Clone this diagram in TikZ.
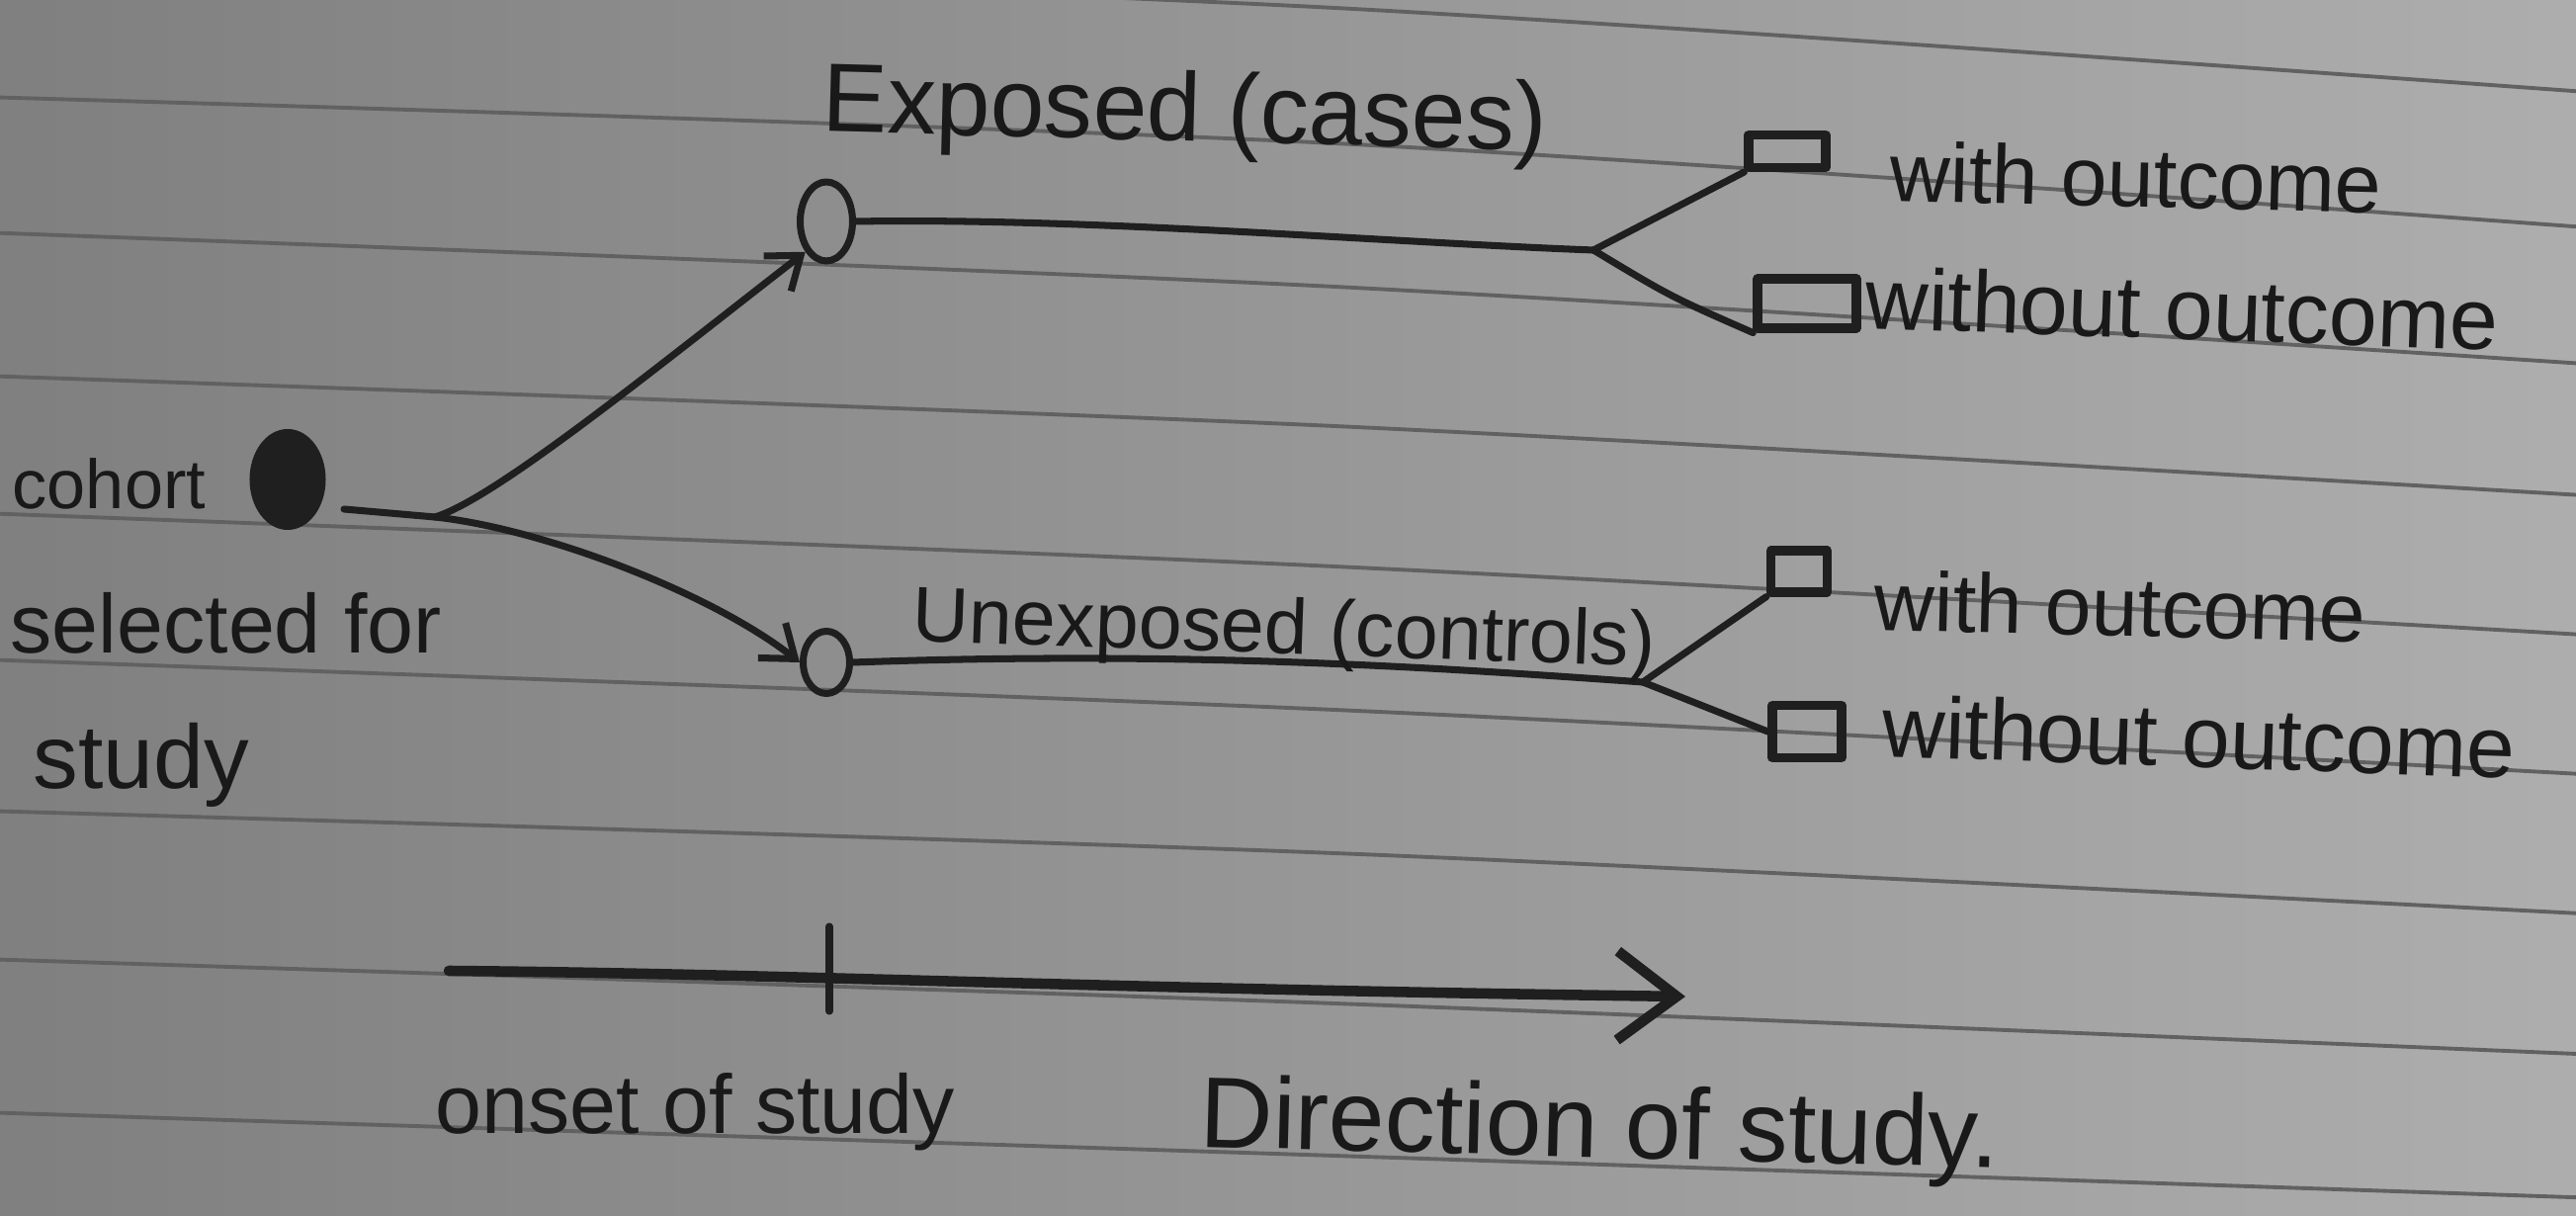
\documentclass[tikz,border=0pt]{standalone}
\usepackage{fontspec}
\setmainfont{Liberation Sans}
\usetikzlibrary{shapes.geometric,arrows.meta}

\tikzset{
  ink/.style={draw=black!88, line width=2pt, line cap=round, line join=round},
  ruled/.style={draw=black!62, line width=1.1pt},
  hole/.style={ink, ellipse, inner sep=0pt},
  outbox/.style={ink, line width=2.6pt, rectangle, inner sep=0pt},
  hand/.style={text=black!90, inner sep=0pt, anchor=base west},
  small tip/.style={-{Straight Barb[length=3mm,width=4.5mm]}},
  big tip/.style={-{Straight Barb[length=6mm,width=9mm]}},
}

\begin{document}
\begin{tikzpicture}
        % Definition
        \pgfmathsetmacro{\W}{26.06}
        \pgfmathsetmacro{\H}{12.30}

        % Paper
        \useasboundingbox (0,0) rectangle (\W,\H);
        \shade[left color=black!50, right color=black!32] (0,0) rectangle (\W,\H);
        \begin{scope}
          \clip (0,0) rectangle (\W,\H);
          \foreach \a/\b/\c in {12.75/12.22/11.36, 11.32/10.85/9.99, 9.95/9.40/8.61,
                                8.50/7.99/7.28, 7.11/6.57/5.87, 5.63/5.12/4.46,
                                4.10/3.67/3.05, 2.60/2.15/1.63, 1.05/0.61/0.18}
            \draw[ruled] plot[smooth] coordinates {(-0.2,\a) (13.5,\b) (26.3,\c)};
        \end{scope}

        % Coordinates
        \node[hole, fill=black!88, minimum width=7mm, minimum height=9.5mm] (cohort) at (2.91,7.45) {};
        \coordinate (stem) at (3.48,7.15);
        \coordinate (fork) at (4.40,7.07);
        \node[hole, minimum width=5.3mm, minimum height=8mm] (exp) at (8.36,10.06) {};
        \node[hole, minimum width=4.7mm, minimum height=6.3mm] (unexp) at (8.36,5.60) {};
        \coordinate (expsplit) at (16.12,9.77);
        \coordinate (unexpsplit) at (16.62,5.40);
        \node[outbox, minimum width=7.8mm, minimum height=3.3mm] (expwith) at (18.08,10.77) {};
        \node[outbox, minimum width=10mm, minimum height=5mm] (expwithout) at (18.28,9.23) {};
        \node[outbox, minimum width=5.7mm, minimum height=4.2mm] (unexpwith) at (18.20,6.52) {};
        \node[outbox, minimum width=7mm, minimum height=5.3mm] (unexpwithout) at (18.28,4.90) {};
        \coordinate (tstart) at (4.54,2.48);
        \coordinate (onset) at (8.39,2.42);
        \coordinate (tend) at (17.05,2.22);

        % Draw cohort split
        \draw[ink] (stem) -- (fork);
        \draw[ink,small tip] (fork) .. controls (5.0,7.25) and (6.6,8.55) .. (exp.south west);
        \draw[ink,small tip] (fork) .. controls (5.5,6.95) and (7.2,6.3) .. (unexp.west);

        % Draw exposed branch
        \draw[ink] (exp.east) .. controls (11,10.1) and (14,9.85) .. (expsplit);
        \draw[ink] (expsplit) -- (expwith.south west);
        \draw[ink] (expsplit) .. controls (16.9,9.3) .. (expwithout.south west);

        % Draw unexposed branch
        \draw[ink] (unexp.east) .. controls (12,5.72) and (14.5,5.55) .. (unexpsplit);
        \draw[ink] (unexpsplit) -- (unexpwith.south west);
        \draw[ink] (unexpsplit) -- (unexpwithout.west);

        % Draw time line
        \draw[ink,line width=3pt,big tip] (tstart) .. controls (8,2.45) and (11,2.3) .. (tend);
        \draw[ink] ([yshift=5.1mm]onset) -- ([yshift=-3.5mm]onset);

        % Labels
        \node[hand,font=\fontsize{28}{30}\selectfont,rotate=-1.5] (exposedlbl) at (8.31,10.97) {Exposed (cases)};
        \node[hand,font=\fontsize{24}{26}\selectfont,rotate=-1.5] (expwithlbl) at (19.11,10.27) {with outcome};
        \node[hand,font=\fontsize{25}{27}\selectfont,rotate=-2] (expwithoutlbl) at (18.86,8.98) {without outcome};
        \node[hand,font=\fontsize{20}{22}\selectfont] (cohortlbl) at (0.12,7.15) {cohort};
        \node[hand,font=\fontsize{24}{26}\selectfont] (selectlbl) at (0.10,5.69) {selected for};
        \node[hand,font=\fontsize{26}{28}\selectfont] (studylbl) at (0.33,4.32) {study};
        \node[hand,font=\fontsize{22.5}{24}\selectfont,rotate=-2] (unexplbl) at (9.22,5.82) {Unexposed (controls)};
        \node[hand,font=\fontsize{24}{26}\selectfont,rotate=-1.5] (unexpwithlbl) at (18.95,5.93) {with outcome};
        \node[hand,font=\fontsize{25}{27}\selectfont,rotate=-2] (unexpwithoutlbl) at (19.03,4.65) {without outcome};
        \node[hand,font=\fontsize{24}{26}\selectfont] (onsetlbl) at (4.40,0.83) {onset of study};
        \node[hand,font=\fontsize{29}{31}\selectfont,rotate=-1.5] (dirlbl) at (12.13,0.70) {Direction of study.};
      \end{tikzpicture}
\end{document}
